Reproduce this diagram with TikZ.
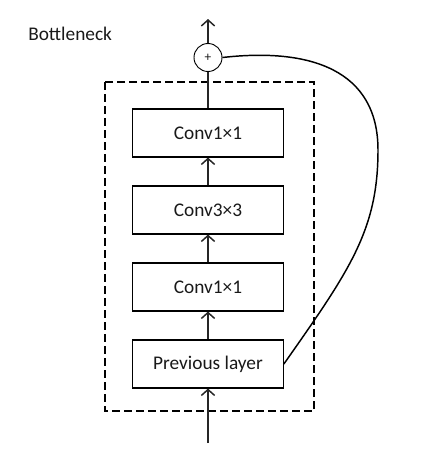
\documentclass[tikz,border=0pt]{standalone}
\usepackage{fontspec}
\setmainfont{Carlito}
\usetikzlibrary{arrows.meta}

\begin{document}
\begin{tikzpicture}[x=0.75pt, y=-0.75pt,
    every node/.style={font=\fontsize{14.5}{17}\selectfont, text=black!90},
    layer/.style={draw, line width=0.8pt, minimum width=113pt, minimum height=36pt, inner sep=0pt},
    link/.style={line width=1.4pt, draw=black!85},
    head/.style={-{Straight Barb[length=4.5pt, width=10pt, line width=1.1pt]}}]
    \useasboundingbox (0,0) rectangle (428,465);

    \node (title) at (28,40) [anchor=base west, inner sep=0pt] {Bottleneck};

    \draw [line width=0.8pt, dash pattern=on 6pt off 3pt] (105,82) rectangle (314,411);

    \node (conv_a) at (208,133) [layer] {Conv1×1};
    \node (conv_b) at (208,210) [layer] {Conv3×3};
    \node (conv_c) at (208,287) [layer] {Conv1×1};
    \node (prev) at (208,364) [layer] {Previous layer};

    \node (plus) at (208,57.5) [draw, circle, line width=0.7pt, minimum size=21pt, inner sep=0pt, font=\fontsize{10}{12}\selectfont] {+};

    \coordinate (p_in) at (208,443);
    \coordinate (p_out) at (208,19);
    \coordinate (p_turn) at (378,150);

    \draw [link, head] (p_in) -- (prev.south);
    \draw [link, head] (prev.north) -- (conv_c.south);
    \draw [link, head] (conv_c.north) -- (conv_b.south);
    \draw [link, head] (conv_b.north) -- (conv_a.south);
    \draw [link] (conv_a.north) -- (plus.south);
    \draw [link, head] (plus.north) -- (p_out);

    \draw [line width=1.1pt] (prev.east) .. controls +(66,-94) and +(0,80) .. (p_turn)
        .. controls +(0,-80) and +(88,-10) .. (plus.east);
\end{tikzpicture}
\end{document}
